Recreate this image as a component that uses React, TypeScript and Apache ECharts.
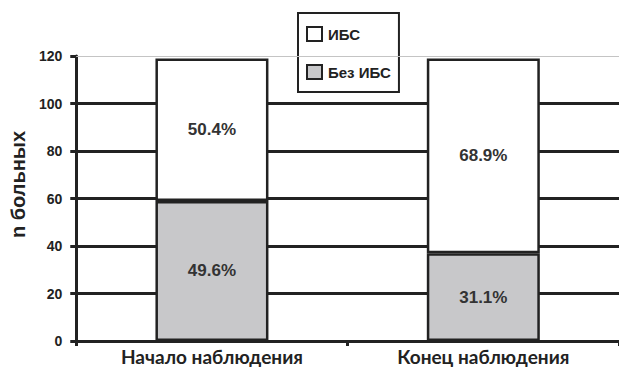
import React, { useEffect, useRef } from "react";
import * as echarts from "echarts";

// Patients per observation point
const categories = ["Начало наблюдения", "Конец наблюдения"];
const withoutIhd = [59, 37]; // Без ИБС
const withIhd = [60, 82]; // ИБС
const yTicks = { min: 0, max: 120, interval: 20 };
const axisName = "n больных";
const legendNames = ["ИБС", "Без ИБС"];

const INK = "#222";
const GREY = "#c8c8ca";

const totals = categories.map((_, i) => withoutIhd[i] + withIhd[i]);
const pct = (v: number, i: number) => ((v / totals[i]) * 100).toFixed(1) + "%";

export default function App() {
  const ref = useRef<HTMLDivElement>(null);

  useEffect(() => {
    if (!ref.current) return;
    const chart = echarts.init(ref.current, null, { renderer: "svg" });

    const labelStyle = {
      show: true,
      position: "inside" as const,
      fontFamily: "Liberation Sans, Arial, sans-serif",
      fontWeight: "bold" as const,
      fontSize: 17,
      color: "#333",
    };

    chart.setOption({
      animation: false,
      backgroundColor: "#fff",
      grid: { left: 67, top: 56, width: 568, height: 285, containLabel: false },
      legend: {
        data: legendNames,
        orient: "vertical",
        left: 298,
        top: 13,
        padding: [13, 8, 12, 8],
        itemGap: 22,
        itemWidth: 15,
        itemHeight: 14,
        backgroundColor: "#fff",
        borderColor: INK,
        borderWidth: 2,
        borderRadius: 0,
        icon: "rect",
        itemStyle: { borderColor: INK, borderWidth: 2 },
        textStyle: {
          fontFamily: "Liberation Sans, Arial, sans-serif",
          fontWeight: "bold",
          fontSize: 15,
          color: INK,
          padding: [0, 0, 0, 1],
        },
      },
      xAxis: {
        type: "category",
        data: categories,
        boundaryGap: true,
        axisLine: { lineStyle: { color: INK, width: 3 } },
        axisTick: { show: true, length: 5, lineStyle: { color: INK, width: 3 } },
        axisLabel: {
          margin: 6,
          fontFamily: "Lato, sans-serif",
          fontWeight: "bold",
          fontSize: 19,
          color: INK,
        },
      },
      yAxis: {
        type: "value",
        min: yTicks.min,
        max: yTicks.max,
        interval: yTicks.interval,
        name: axisName,
        nameLocation: "middle",
        nameRotate: 90,
        nameGap: 42,
        nameTextStyle: {
          fontFamily: "Liberation Sans, Arial, sans-serif",
          fontWeight: "bold",
          fontSize: 20,
          color: INK,
          padding: [0, 0, 0, 28],
        },
        axisLine: { show: true, lineStyle: { color: INK, width: 3 } },
        axisTick: { show: true, length: 6, lineStyle: { color: INK, width: 3 } },
        axisLabel: {
          margin: 14,
          fontFamily: "Liberation Sans, Arial, sans-serif",
          fontWeight: "bold",
          fontSize: 14,
          color: INK,
        },
        splitLine: {
          show: true,
          showMaxLine: false,
          lineStyle: { color: INK, width: 3 },
        },
      },
      series: [
        {
          name: "Без ИБС",
          type: "bar",
          stack: "total",
          barWidth: 113,
          data: withoutIhd,
          itemStyle: { color: GREY, borderColor: INK, borderWidth: 2.5 },
          label: { ...labelStyle, formatter: (p: any) => pct(p.value, p.dataIndex) },
          markLine: {
            silent: true,
            symbol: "none",
            label: { show: false },
            lineStyle: { color: "#c4c4c4", width: 1, type: "solid" },
            data: [{ yAxis: yTicks.max }],
          },
          z: 3,
        },
        {
          name: "ИБС",
          type: "bar",
          stack: "total",
          barWidth: 113,
          data: withIhd,
          itemStyle: { color: "#fff", borderColor: INK, borderWidth: 2.5 },
          label: { ...labelStyle, formatter: (p: any) => pct(p.value, p.dataIndex) },
          z: 3,
        },
      ],
    });

    return () => chart.dispose();
  }, []);

  return (
    <div
      ref={ref}
      style={{ position: "fixed", left: 0, top: 0, width: 619, height: 367 }}
    />
  );
}
